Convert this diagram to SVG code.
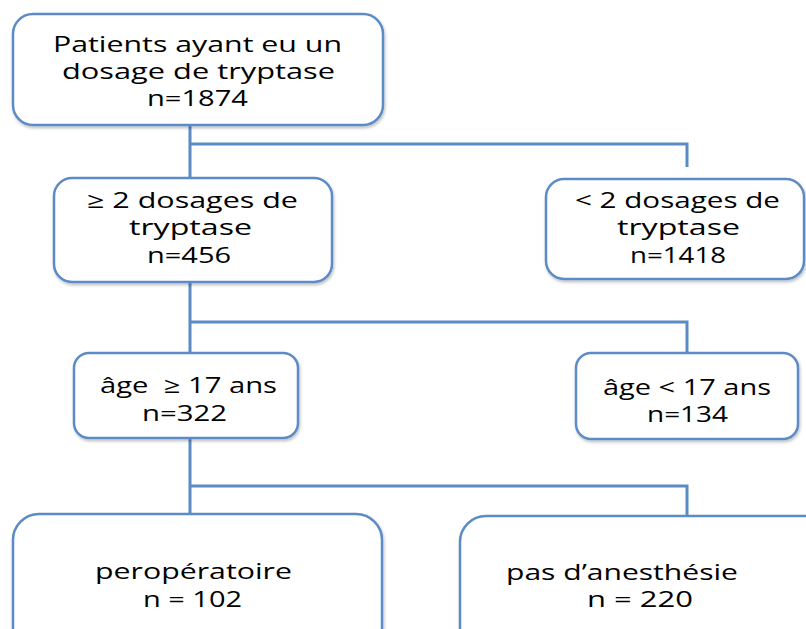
<svg xmlns="http://www.w3.org/2000/svg" width="806" height="629" viewBox="0 0 806 629">
<style>
.box{fill:#fff;stroke:#5B8BC6;stroke-width:2.5;filter:url(#sh)}
.conn{fill:none;stroke:#5B8BC6;stroke-width:3}
text{font-family:"Open Sans","Noto Sans","DejaVu Sans",sans-serif;font-size:22px;fill:#000;white-space:pre}
</style>
<defs>
<filter id="sh" x="-10%" y="-10%" width="120%" height="130%">
<feDropShadow dx="1" dy="2" stdDeviation="1.5" flood-color="#000" flood-opacity="0.25"/>
</filter>
</defs>
<rect width="806" height="629" fill="#fff"/>
<g id="connectors">
<path class="conn" d="M190,125 V178 M190,144 H687 V167"/>
<path class="conn" d="M190,282 V353 M190,322 H687 V353"/>
<path class="conn" d="M190,438 V514 M190,486 H687 V516"/>
</g>
<g id="n1">
<rect class="box" x="13" y="14" width="370" height="111" rx="20"/>
<text x="53" y="52" textLength="289" lengthAdjust="spacingAndGlyphs">Patients ayant eu un</text>
<text x="62" y="79" textLength="273" lengthAdjust="spacingAndGlyphs">dosage de tryptase</text>
<text x="147" y="106" textLength="101" lengthAdjust="spacingAndGlyphs">n=1874</text>
</g>
<g id="n2">
<rect class="box" x="54" y="178" width="278" height="104" rx="18"/>
<text x="87" y="208" textLength="211" lengthAdjust="spacingAndGlyphs">≥ 2 dosages de</text>
<text x="129" y="235" textLength="123" lengthAdjust="spacingAndGlyphs">tryptase</text>
<text x="147" y="263" textLength="84" lengthAdjust="spacingAndGlyphs">n=456</text>
</g>
<g id="n3">
<rect class="box" x="546" y="179" width="258" height="100" rx="18"/>
<text x="575" y="208" textLength="205" lengthAdjust="spacingAndGlyphs">&lt; 2 dosages de</text>
<text x="617" y="235" textLength="123" lengthAdjust="spacingAndGlyphs">tryptase</text>
<text x="630" y="263" textLength="96" lengthAdjust="spacingAndGlyphs">n=1418</text>
</g>
<g id="n4">
<rect class="box" x="74" y="353" width="224" height="85" rx="15"/>
<text x="100" y="393" textLength="177" lengthAdjust="spacingAndGlyphs" xml:space="preserve">âge  ≥ 17 ans</text>
<text x="142" y="421" textLength="85" lengthAdjust="spacingAndGlyphs">n=322</text>
</g>
<g id="n5">
<rect class="box" x="576" y="353" width="222" height="86" rx="15"/>
<text x="603" y="395" textLength="168" lengthAdjust="spacingAndGlyphs">âge &lt; 17 ans</text>
<text x="647" y="422" textLength="81" lengthAdjust="spacingAndGlyphs">n=134</text>
</g>
<g id="n6">
<rect class="box" x="13" y="514" width="369" height="150" rx="26"/>
<text x="95" y="579" textLength="197" lengthAdjust="spacingAndGlyphs">peropératoire</text>
<text x="143" y="607" textLength="99" lengthAdjust="spacingAndGlyphs">n = 102</text>
</g>
<g id="n7">
<rect class="box" x="460" y="516" width="380" height="150" rx="26"/>
<text x="506" y="580" textLength="232" lengthAdjust="spacingAndGlyphs">pas d’anesthésie</text>
<text x="587" y="607" textLength="106" lengthAdjust="spacingAndGlyphs">n = 220</text>
</g>
</svg>
